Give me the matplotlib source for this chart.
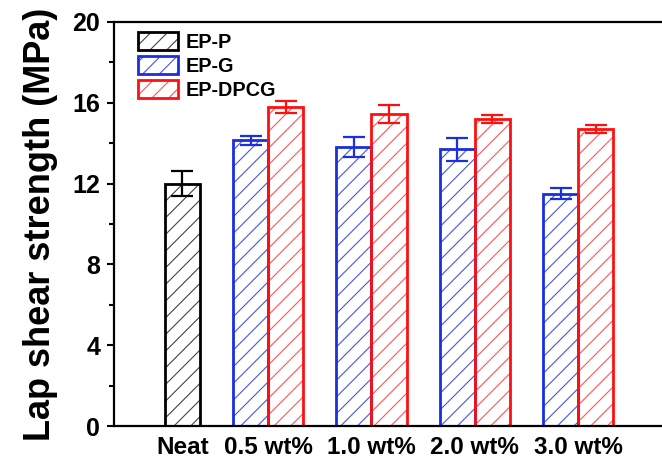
import matplotlib
matplotlib.use("Agg")
import matplotlib.pyplot as plt
from matplotlib.ticker import MultipleLocator
from matplotlib.legend_handler import HandlerTuple

plt.rcParams['font.family'] = ['Liberation Sans', 'DejaVu Sans']
plt.rcParams['font.weight'] = 'bold'
plt.rcParams['axes.labelweight'] = 'bold'
plt.rcParams['hatch.linewidth'] = 0.8

# data
groups = ["Neat", "0.5 wt%", "1.0 wt%", "2.0 wt%", "3.0 wt%"]
neat_val = [12.0]
neat_err = [0.6]
g_val = [14.15, 13.8, 13.7, 11.5]
g_err = [0.22, 0.5, 0.57, 0.28]
dpcg_val = [15.8, 15.45, 15.2, 14.7]
dpcg_err = [0.3, 0.45, 0.22, 0.18]

BLUE = "#1a2fe0"
RED = "#ff0f0f"
w = 0.34

fig = plt.figure(figsize=(6.62, 4.62), dpi=100)
ax = fig.add_axes([114 / 662, 36 / 462, (690 - 114) / 662, 404 / 462])

err_kw = dict(elinewidth=1.6, capthick=1.6, capsize=8, fmt="none")


def hatched_bar(x, vals, errs, color, hcolor, label):
    # hatch drawn in a lighter tone, outline drawn on top
    h = ax.bar(x, vals, w, fill=False, edgecolor=hcolor, hatch="//", linewidth=0)
    o = ax.bar(x, vals, w, fill=False, edgecolor=color, linewidth=2)
    ax.errorbar(x, vals, yerr=errs, ecolor=color, **err_kw)
    return (h[0], o[0]), label


neat_x = [w / 2]
gx = [i - w / 2 for i in range(1, len(groups))]
dx = [i + w / 2 for i in range(1, len(groups))]
handles = [
    hatched_bar(neat_x, neat_val, neat_err, "black", "#444444", "EP-P"),
    hatched_bar(gx, g_val, g_err, BLUE, "#4656e6", "EP-G"),
    hatched_bar(dx, dpcg_val, dpcg_err, RED, "#ff5555", "EP-DPCG"),
]

ax.set_xlim(-0.49, 5.08)
ax.set_ylim(0, 20)
ax.set_xticks(neat_x + list(range(1, len(groups))))
ax.set_xticklabels(groups)
ax.yaxis.set_major_locator(MultipleLocator(4))
ax.yaxis.set_minor_locator(MultipleLocator(2))
ax.tick_params(axis="y", which="major", direction="out", length=5, width=1.5,
               labelsize=18, pad=5)
ax.tick_params(axis="y", which="minor", direction="out", length=3.5, width=1.5)
ax.tick_params(axis="x", length=0, labelsize=17.5, pad=7)
for s in ax.spines.values():
    s.set_linewidth(1.6)

ax.set_ylabel("Lap shear strength (MPa)", fontsize=26, labelpad=10)

ax.legend([h for h, _ in handles], [l for _, l in handles],
          handler_map={tuple: HandlerTuple(ndivide=1, pad=0)},
          loc="upper left", bbox_to_anchor=(0.017, 1.01), frameon=False,
          fontsize=14.3, handlelength=2.05, handleheight=1.0,
          handletextpad=0.35, labelspacing=0.22, borderaxespad=0.3)

fig.savefig("out.png", dpi=100)
